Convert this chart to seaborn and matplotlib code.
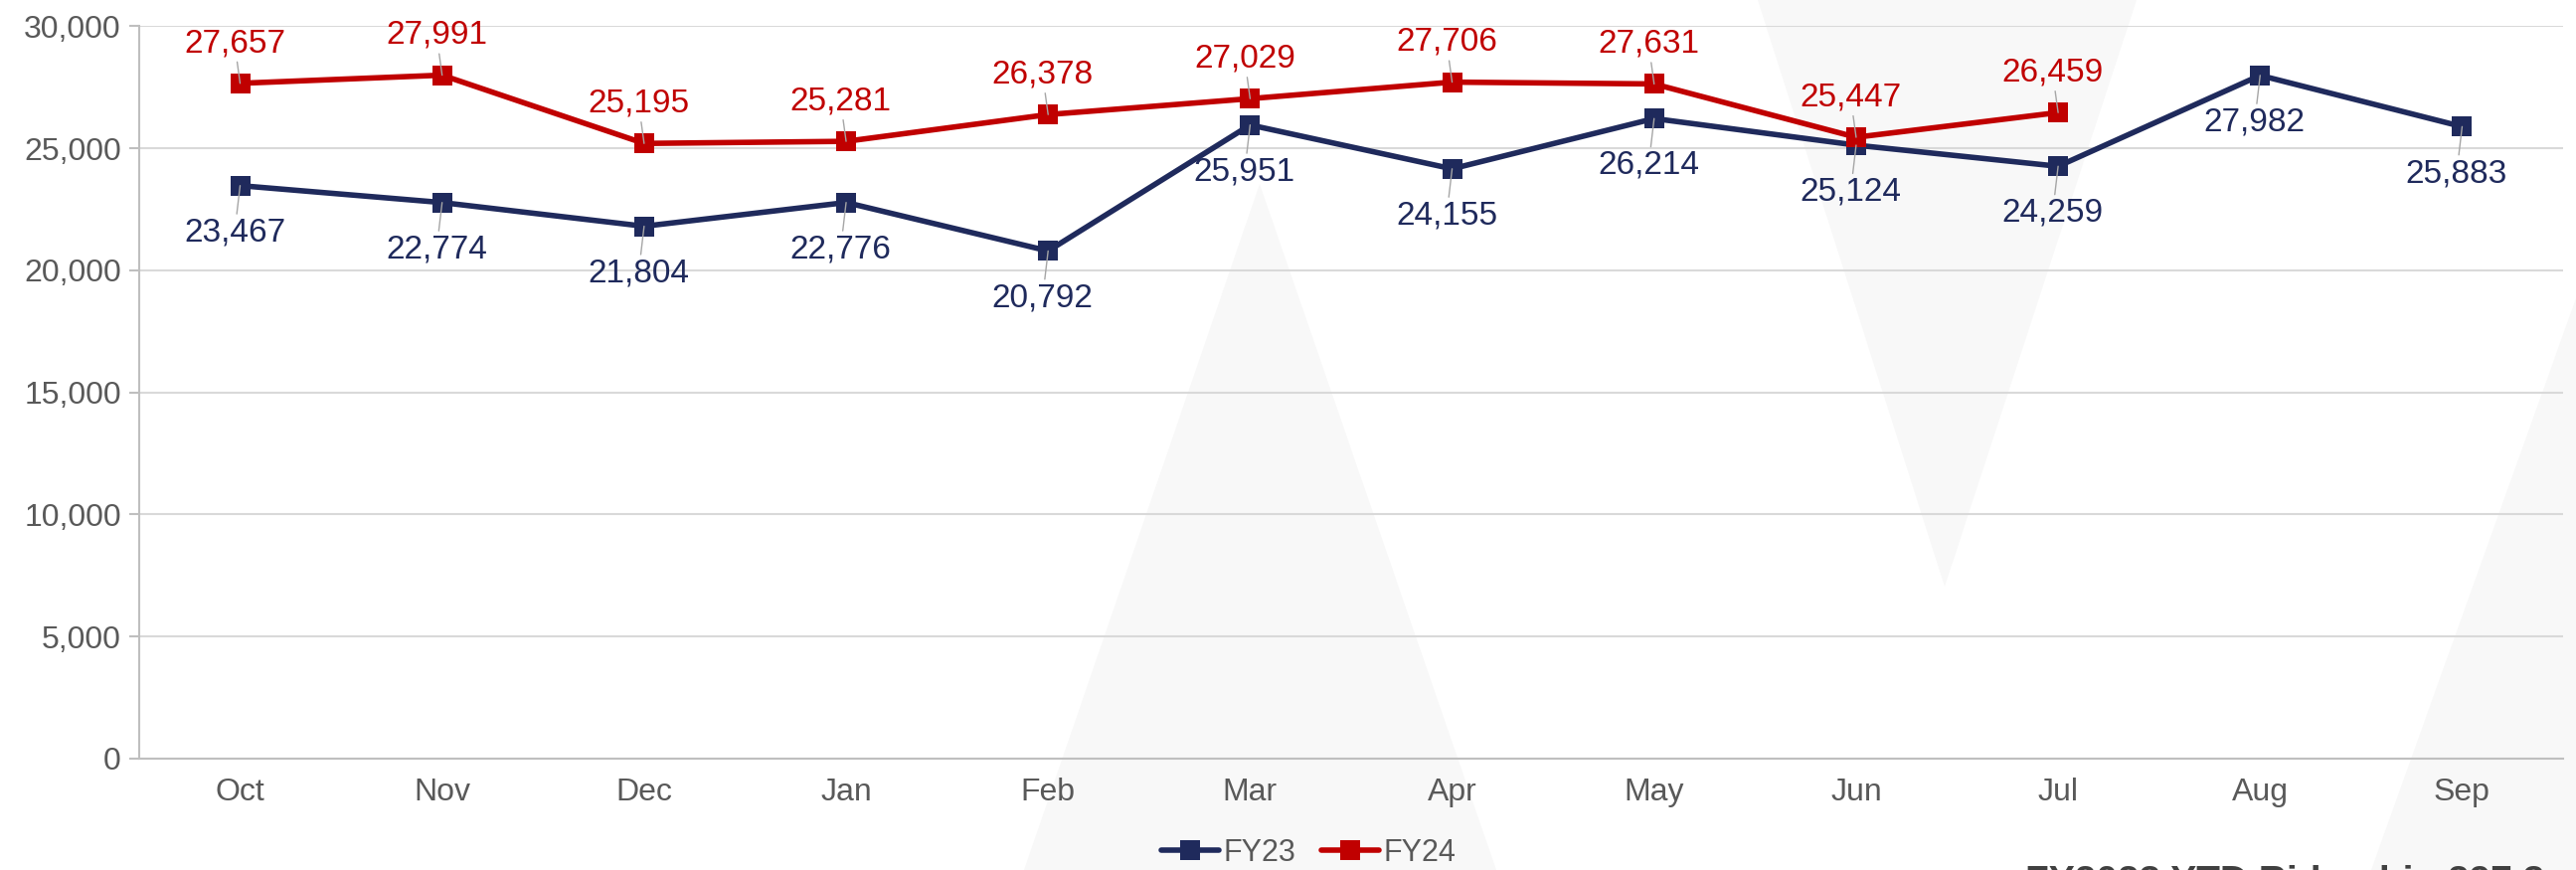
import numpy as np
import pandas as pd
import matplotlib
matplotlib.use('Agg')
import matplotlib.pyplot as plt
from matplotlib.patches import Polygon
from matplotlib.ticker import FuncFormatter, FixedLocator
import seaborn as sns

# Monthly ridership, fiscal year Oct-Sep
months = ['Oct', 'Nov', 'Dec', 'Jan', 'Feb', 'Mar', 'Apr', 'May', 'Jun', 'Jul', 'Aug', 'Sep']
fy23 = [23467, 22774, 21804, 22776, 20792, 25951, 24155, 26214, 25124, 24259, 27982, 25883]
fy24 = [27657, 27991, 25195, 25281, 26378, 27029, 27706, 27631, 25447, 26459]
series_names = ['FY23', 'FY24']
colors = {'FY23': '#1F2A5C', 'FY24': '#C00000'}
footer_text = 'FY2023 YTD Ridership 297,3'

df = pd.concat([
    pd.DataFrame({'Month': months[:len(fy23)], 'Riders': fy23, 'Year': 'FY23'}),
    pd.DataFrame({'Month': months[:len(fy24)], 'Riders': fy24, 'Year': 'FY24'}),
], ignore_index=True)
df['Pos'] = df['Month'].map({m: i for i, m in enumerate(months)})

sns.set_theme(style='white')
plt.rcParams['font.family'] = ['Liberation Sans', 'DejaVu Sans']

fig = plt.figure(figsize=(25.91, 8.75), dpi=100)

# faint watermark triangles behind everything
wm = '#f8f8f8'
for pts in [[(1267, 185), (1030, 875), (1505, 875)],
            [(1768, 0), (2149, 0), (1956, 590)],
            [(2385, 875), (2591, 300), (2591, 875)]]:
    fig.patches.append(Polygon([(x / 2591, 1 - y / 875) for x, y in pts],
                               closed=True, transform=fig.transFigure,
                               facecolor=wm, edgecolor='none', zorder=-5))

ax = fig.add_axes([0.054, 0.128, 0.941, 0.842])
ax.set_facecolor('none')
ax.set_zorder(1)

sns.lineplot(data=df, x='Pos', y='Riders', hue='Year', hue_order=series_names,
             palette=colors, marker='s', markersize=15, markeredgewidth=0,
             linewidth=4, sort=False, ax=ax, zorder=3)

# data labels with leader lines
offsets = {'FY23': (-4, -34), 'FY24': (-4, 29)}
for name in series_names:
    sub = df[df['Year'] == name]
    for x, y in zip(sub['Pos'], sub['Riders']):
        ax.annotate(f'{y:,}', xy=(x, y), xytext=offsets[name],
                    textcoords='offset points', ha='center', va='center',
                    fontsize=24, color=colors[name], zorder=5,
                    arrowprops=dict(arrowstyle='-', color='#a6a6a6', lw=1,
                                    shrinkA=0, shrinkB=0))

ax.set_xlim(-0.5, len(months) - 0.5)
ax.set_ylim(0, 30000)
ax.set_yticks(np.arange(0, 30001, 5000))
ax.yaxis.set_major_formatter(FuncFormatter(lambda v, p: f'{int(v):,}'))
ax.set_xticks(range(len(months)))
ax.set_xticklabels(months)
ax.xaxis.set_minor_locator(FixedLocator(np.arange(-0.5, len(months), 1)))
ax.tick_params(axis='x', which='major', length=0, pad=14, labelsize=23, labelcolor='#595959')
ax.tick_params(axis='x', which='minor', length=7, width=1.5, color='#bfbfbf', direction='out')
ax.tick_params(axis='y', length=7, width=1.5, color='#bfbfbf', direction='out',
               pad=6, labelsize=23, labelcolor='#595959', left=True)
ax.set_xlabel('')
ax.set_ylabel('')
ax.grid(axis='y', color='#d9d9d9', linewidth=1.5)
ax.set_axisbelow(True)
for s in ['top', 'right']:
    ax.spines[s].set_visible(False)
for s in ['left', 'bottom']:
    ax.spines[s].set_color('#bfbfbf')
    ax.spines[s].set_linewidth(1.5)

handles, labels = ax.get_legend_handles_labels()
ax.get_legend().remove()
fig.legend(handles, labels, loc='center', bbox_to_anchor=(0.508, 0.02), ncol=2,
           frameon=False, fontsize=22, handlelength=1.9, handletextpad=0.15,
           columnspacing=0.85, labelcolor='#595959')

fig.text(0.786, -0.026, footer_text, ha='left', va='baseline', fontsize=28,
         fontweight='bold', color='#404040')

fig.savefig('out.png', dpi=100)
